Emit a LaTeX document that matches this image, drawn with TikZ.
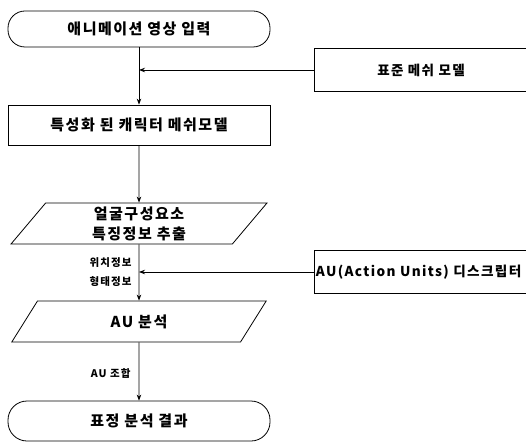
\documentclass[tikz,border=0pt]{standalone}
\usepackage{fontspec}
\setmainfont{Noto Sans CJK KR}[LetterSpace=10]
\usetikzlibrary{arrows.meta,shapes.geometric}
\begin{document}
\begin{tikzpicture}[x=1pt,y=-1pt,
  every node/.style={font=\bfseries},
  bigtxt/.style={font=\fontsize{15}{20}\selectfont\bfseries},
  midtxt/.style={font=\fontsize{13.5}{16}\selectfont\bfseries},
  smalltxt/.style={font=\fontsize{10.5}{19}\selectfont\bfseries},
  term/.style={draw, line width=0.8pt, rounded corners=17pt, minimum width=262pt, minimum height=36pt, inner sep=0pt},
  procbox/.style={draw, line width=0.8pt, minimum width=262pt, minimum height=40pt, inner sep=0pt},
  iobox/.style={draw, line width=0.8pt, trapezium, trapezium left angle=63, trapezium right angle=117, trapezium stretches=true, minimum width=256pt, minimum height=41pt, inner sep=0pt, align=center},
  sidebox/.style={draw, line width=0.8pt, minimum height=43pt, inner xsep=2pt},
  flow/.style={line width=0.8pt, -{Stealth[length=6pt,width=4.5pt]}},
  feed/.style={line width=0.8pt, -{Stealth[length=6pt,width=4.5pt]}}
]
\useasboundingbox (0,0) rectangle (526,443);
\clip (0,0) rectangle (526,443);
\node[term, bigtxt] (start) at (139,29) {애니메이션 영상 입력};
\node[sidebox, midtxt, minimum width=214pt, inner sep=0pt] (std) at (421,70) {표준 메쉬 모델};
\coordinate (m1) at (139,70);
\node[procbox, bigtxt] (char) at (139,125) {특성화 된 캐릭터 메쉬모델};
\node[iobox, bigtxt] (feat) at (139,223.5) {얼굴구성요소\\특징정보 추출};
\node[sidebox, font=\fontsize{13.6}{16}\selectfont\bfseries, anchor=west, inner xsep=1.5pt, text width=214pt, align=left] (desc) at (314,272) {AU(Action Units) 디스크립터};
\coordinate (m2) at (139,272);
\node[iobox, bigtxt] (au) at (139,321.5) {AU 분석};
\node[term, bigtxt, minimum height=40pt, rounded corners=19pt] (end) at (139,421) {표정 분석 결과};
\node[smalltxt, anchor=east, align=right] (pos) at (135,272.5) {위치정보\\형태정보};
\node[smalltxt, anchor=east] (comb) at (134,373) {AU 조합};
\draw[flow] (start.south) -- (char.north);
\draw[feed] (std.west) -- (m1);
\draw[flow] (char.south) -- (feat.north);
\draw[flow] (feat.south) -- (au.north);
\draw[feed] (desc.west) -- (m2);
\draw[flow] (au.south) -- (end.north);
\end{tikzpicture}
\end{document}
